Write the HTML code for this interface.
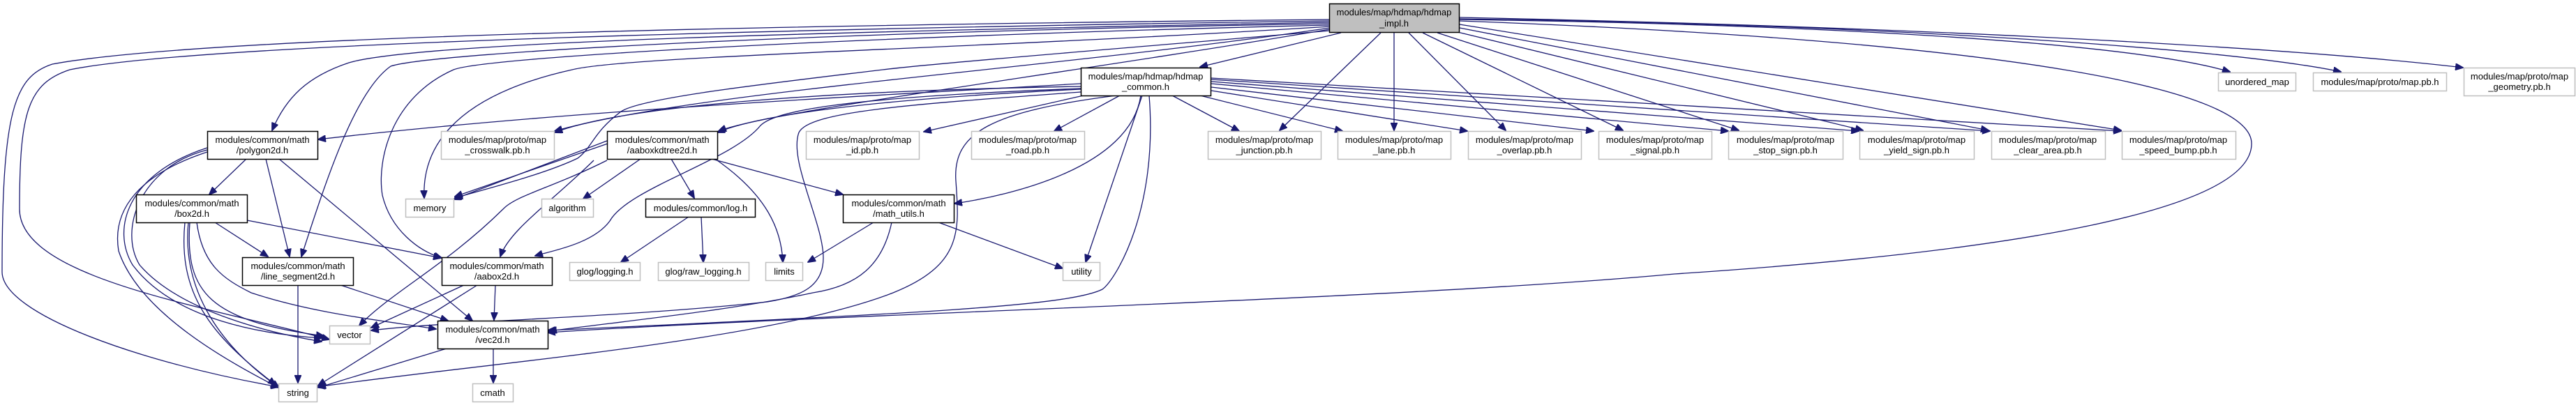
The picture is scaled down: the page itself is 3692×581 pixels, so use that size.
<!DOCTYPE html>
<html><head><meta charset="utf-8"><style>
html,body{margin:0;padding:0;background:#fff;width:3692px;height:581px;overflow:hidden}
svg{display:block}
text{font-family:"Liberation Sans",sans-serif;font-size:13px;fill:#000;text-anchor:middle}
.e{fill:none;stroke:#191970;stroke-width:1.3;marker-end:url(#a)}
.b{fill:#fff;stroke:#000;stroke-width:1.5}
.g{fill:#fff;stroke:#bfbfbf;stroke-width:1.5}
</style></head><body>
<svg width="3692" height="581" viewBox="0 0 3692 581" xmlns="http://www.w3.org/2000/svg">
<defs><marker id="a" markerUnits="userSpaceOnUse" markerWidth="12" markerHeight="10" refX="11" refY="5" orient="auto"><path d="M0,0 L12,5 L0,10 z" fill="#191970" stroke="#191970"/></marker></defs>
<g>
<!-- impl edges -->
<path class="e" d="M1922,47 L1720,96"/>
<path class="e" d="M1979,47 L1834,187"/>
<path class="e" d="M1998,47 L1998,187"/>
<path class="e" d="M2019,47 L2158,187"/>
<path class="e" d="M2039,47 L2326,187"/>
<path class="e" d="M2060,47 L2492,187"/>
<path class="e" d="M2085,45 L2670,187"/>
<path class="e" d="M2092,40 L2850,187"/>
<path class="e" d="M2092,35 L3040,187"/>
<path class="e" d="M2092,28 C2600,35 3050,60 3196,103"/>
<path class="e" d="M2092,27 C2700,35 3200,70 3355,103"/>
<path class="e" d="M2092,25 C2800,40 3300,70 3530,97"/>
<path class="e" d="M2092,30 C2900,60 3230,130 3227,207 C3225,300 2900,360 2400,393 C2000,430 1200,450 785,477"/>
<path class="e" d="M1906,28 C1200,35 300,50 75,92 C20,110 3,160 3,390 C3,450 200,520 399,555"/>
<path class="e" d="M1906,30 C1200,40 300,60 100,100 C40,120 28,160 28,300 C28,400 300,440 472,487"/>
<path class="e" d="M1906,32 C1200,45 600,60 500,90 C440,110 410,140 390,187"/>
<path class="e" d="M1906,34 C1200,45 620,75 560,95 C510,130 470,250 432,368"/>
<path class="e" d="M1906,36 C1300,50 700,80 650,100 C560,140 540,230 548,280 C560,330 600,360 633,370"/>
<path class="e" d="M1906,38 C1400,70 900,80 820,100 C640,140 605,220 608,284"/>
<path class="e" d="M1906,44 C1600,70 1350,90 1265,100 C1100,120 920,140 890,160 C850,190 850,210 828,227 C780,250 700,270 652,284"/>
<path class="e" d="M1906,40 C1500,100 1000,130 795,188"/>
<path class="e" d="M1906,42 C1500,110 1100,160 1030,188"/>
<!-- hdmap_common edges -->
<path class="e" d="M1553,137 L1324,189"/>
<path class="e" d="M1605,137 L1511,188"/>
<path class="e" d="M1680,137 L1776,188"/>
<path class="e" d="M1720,137 L1924,188"/>
<path class="e" d="M1736,130 L2103,188"/>
<path class="e" d="M1736,125 L2284,188"/>
<path class="e" d="M1736,120 L2477,188"/>
<path class="e" d="M1736,117 L2664,188"/>
<path class="e" d="M1736,114 L2852,188"/>
<path class="e" d="M1736,112 L3040,188"/>
<path class="e" d="M1635,137 C1620,240 1450,280 1368,292"/>
<path class="e" d="M1637,137 L1556,376"/>
<path class="e" d="M1647,137 C1660,300 1600,400 1580,415 C1530,440 1300,450 785,474"/>
<path class="e" d="M1549,120 C1200,140 800,160 456,200"/>
<path class="e" d="M1549,124 C1200,130 900,150 795,190"/>
<path class="e" d="M1549,128 C1300,140 1100,160 1028,190"/>
<path class="e" d="M1549,127 C1200,140 1110,160 1090,180 C1050,230 900,270 874,317 C850,350 790,360 767,367"/>
<path class="e" d="M1549,132 C1300,150 1160,160 1145,190 C1130,230 1180,320 1180,370 C1180,410 1150,425 1100,433 C900,455 650,460 532,474"/>
<path class="e" d="M1600,137 C1420,160 1365,190 1370,260 C1375,330 1380,380 1280,420 C1100,490 700,520 455,555"/>
<!-- aaboxkdtree2d -->
<path class="e" d="M870,202 L650,286"/>
<path class="e" d="M871,206 L652,282"/>
<path class="e" d="M918,228 L836,285"/>
<path class="e" d="M962,228 L995,284"/>
<path class="e" d="M1020,228 L1208,279"/>
<path class="e" d="M1025,228 C1100,280 1120,330 1122,376"/>
<path class="e" d="M851,230 C790,290 730,330 717,368"/>
<path class="e" d="M870,230 C790,270 740,280 721,300 C640,380 560,420 515,467"/>
<!-- polygon2d -->
<path class="e" d="M353,228 L300,279"/>
<path class="e" d="M381,228 L415,368"/>
<path class="e" d="M400,228 L677,460"/>
<path class="e" d="M297,215 C200,240 170,330 200,380 C260,450 400,480 461,490"/>
<path class="e" d="M297,212 C180,250 160,330 190,380 C250,460 380,480 461,485"/>
<path class="e" d="M297,218 C200,250 160,300 170,360 C200,450 330,520 399,556"/>
<!-- box2d -->
<path class="e" d="M308,319 L384,368"/>
<path class="e" d="M354,316 L632,370"/>
<path class="e" d="M282,319 C290,380 320,400 360,420 C450,450 550,460 625,472"/>
<path class="e" d="M272,319 C265,420 300,460 464,482"/>
<path class="e" d="M265,319 C255,420 300,480 395,552"/>
<path class="e" d="M270,319 C260,420 320,500 400,556"/>
<!-- line_segment2d -->
<path class="e" d="M427,409 L427,549"/>
<path class="e" d="M488,409 L642,460"/>
<!-- aabox2d -->
<path class="e" d="M665,409 L532,470"/>
<path class="e" d="M684,409 L456,553"/>
<path class="e" d="M710,409 L708,459"/>
<!-- vec2d -->
<path class="e" d="M640,500 L456,556"/>
<path class="e" d="M707,500 L707,549"/>
<!-- log -->
<path class="e" d="M987,311 L890,376"/>
<path class="e" d="M1005,311 L1008,376"/>
<!-- math_utils -->
<path class="e" d="M1252,319 L1158,376"/>
<path class="e" d="M1278,319 C1265,380 1230,410 1165,420 C1050,445 900,460 787,475"/>
<path class="e" d="M1345,319 L1523,385"/>
</g>
<!-- nodes -->
<rect x="1905.5" y="5.5" width="186" height="41" fill="#bfbfbf" stroke="#000" stroke-width="1.5"/><text x="1998" y="22">modules/map/hdmap/hdmap</text><text x="1998" y="38">_impl.h</text>
<rect class="b" x="1549.5" y="97.5" width="186" height="40"/><text x="1642" y="114">modules/map/hdmap/hdmap</text><text x="1642" y="129">_common.h</text>
<rect class="b" x="297.5" y="188.5" width="158" height="40"/><text x="376" y="205">modules/common/math</text><text x="376" y="220">/polygon2d.h</text>
<rect class="g" x="632.5" y="188.5" width="162" height="40"/><text x="713" y="205">modules/map/proto/map</text><text x="713" y="220">_crosswalk.pb.h</text>
<rect class="b" x="870.5" y="188.5" width="158" height="40"/><text x="949" y="205">modules/common/math</text><text x="949" y="220">/aaboxkdtree2d.h</text>
<rect class="g" x="1155.5" y="188.5" width="162" height="40"/><text x="1236" y="205">modules/map/proto/map</text><text x="1236" y="220">_id.pb.h</text>
<rect class="g" x="1392.5" y="188.5" width="162" height="40"/><text x="1473" y="205">modules/map/proto/map</text><text x="1473" y="220">_road.pb.h</text>
<rect class="g" x="1731.5" y="188.5" width="162" height="40"/><text x="1812" y="205">modules/map/proto/map</text><text x="1812" y="220">_junction.pb.h</text>
<rect class="g" x="1917.5" y="188.5" width="162" height="40"/><text x="1998" y="205">modules/map/proto/map</text><text x="1998" y="220">_lane.pb.h</text>
<rect class="g" x="2104.5" y="188.5" width="162" height="40"/><text x="2185" y="205">modules/map/proto/map</text><text x="2185" y="220">_overlap.pb.h</text>
<rect class="g" x="2291.5" y="188.5" width="162" height="40"/><text x="2372" y="205">modules/map/proto/map</text><text x="2372" y="220">_signal.pb.h</text>
<rect class="g" x="2477.5" y="188.5" width="164" height="40"/><text x="2559" y="205">modules/map/proto/map</text><text x="2559" y="220">_stop_sign.pb.h</text>
<rect class="g" x="2665.5" y="188.5" width="164" height="40"/><text x="2747" y="205">modules/map/proto/map</text><text x="2747" y="220">_yield_sign.pb.h</text>
<rect class="g" x="2854.5" y="188.5" width="163" height="40"/><text x="2935" y="205">modules/map/proto/map</text><text x="2935" y="220">_clear_area.pb.h</text>
<rect class="g" x="3041.5" y="188.5" width="163" height="40"/><text x="3122" y="205">modules/map/proto/map</text><text x="3122" y="220">_speed_bump.pb.h</text>
<rect class="g" x="3179.5" y="104.5" width="111" height="26"/><text x="3235" y="122">unordered_map</text>
<rect class="g" x="3315.5" y="104.5" width="191" height="26"/><text x="3411" y="122">modules/map/proto/map.pb.h</text>
<rect class="g" x="3531.5" y="97.5" width="159" height="40"/><text x="3611" y="114">modules/map/proto/map</text><text x="3611" y="129">_geometry.pb.h</text>
<rect class="b" x="195.5" y="279.5" width="159" height="40"/><text x="275" y="296">modules/common/math</text><text x="275" y="311">/box2d.h</text>
<rect class="g" x="581.5" y="285.5" width="69" height="26"/><text x="616" y="303">memory</text>
<rect class="g" x="776.5" y="285.5" width="74" height="26"/><text x="813" y="303">algorithm</text>
<rect class="b" x="925.5" y="285.5" width="157" height="26"/><text x="1004" y="303">modules/common/log.h</text>
<rect class="b" x="1208.5" y="279.5" width="159" height="40"/><text x="1288" y="296">modules/common/math</text><text x="1288" y="311">/math_utils.h</text>
<rect class="b" x="347.5" y="369.5" width="159" height="40"/><text x="427" y="386">modules/common/math</text><text x="427" y="401">/line_segment2d.h</text>
<rect class="b" x="633.5" y="369.5" width="158" height="40"/><text x="712" y="386">modules/common/math</text><text x="712" y="401">/aabox2d.h</text>
<rect class="g" x="816.5" y="376.5" width="101" height="26"/><text x="867" y="394">glog/logging.h</text>
<rect class="g" x="943.5" y="376.5" width="130" height="26"/><text x="1008" y="394">glog/raw_logging.h</text>
<rect class="g" x="1097.5" y="376.5" width="53" height="26"/><text x="1124" y="394">limits</text>
<rect class="g" x="1523.5" y="376.5" width="53" height="26"/><text x="1550" y="394">utility</text>
<rect class="g" x="472.5" y="467.5" width="58" height="26"/><text x="501" y="485">vector</text>
<rect class="b" x="627.5" y="460.5" width="158" height="40"/><text x="706" y="477">modules/common/math</text><text x="706" y="492">/vec2d.h</text>
<rect class="g" x="399.5" y="550.5" width="55" height="26"/><text x="427" y="568">string</text>
<rect class="g" x="677.5" y="550.5" width="58" height="26"/><text x="706" y="568">cmath</text>
</svg>
</body></html>
